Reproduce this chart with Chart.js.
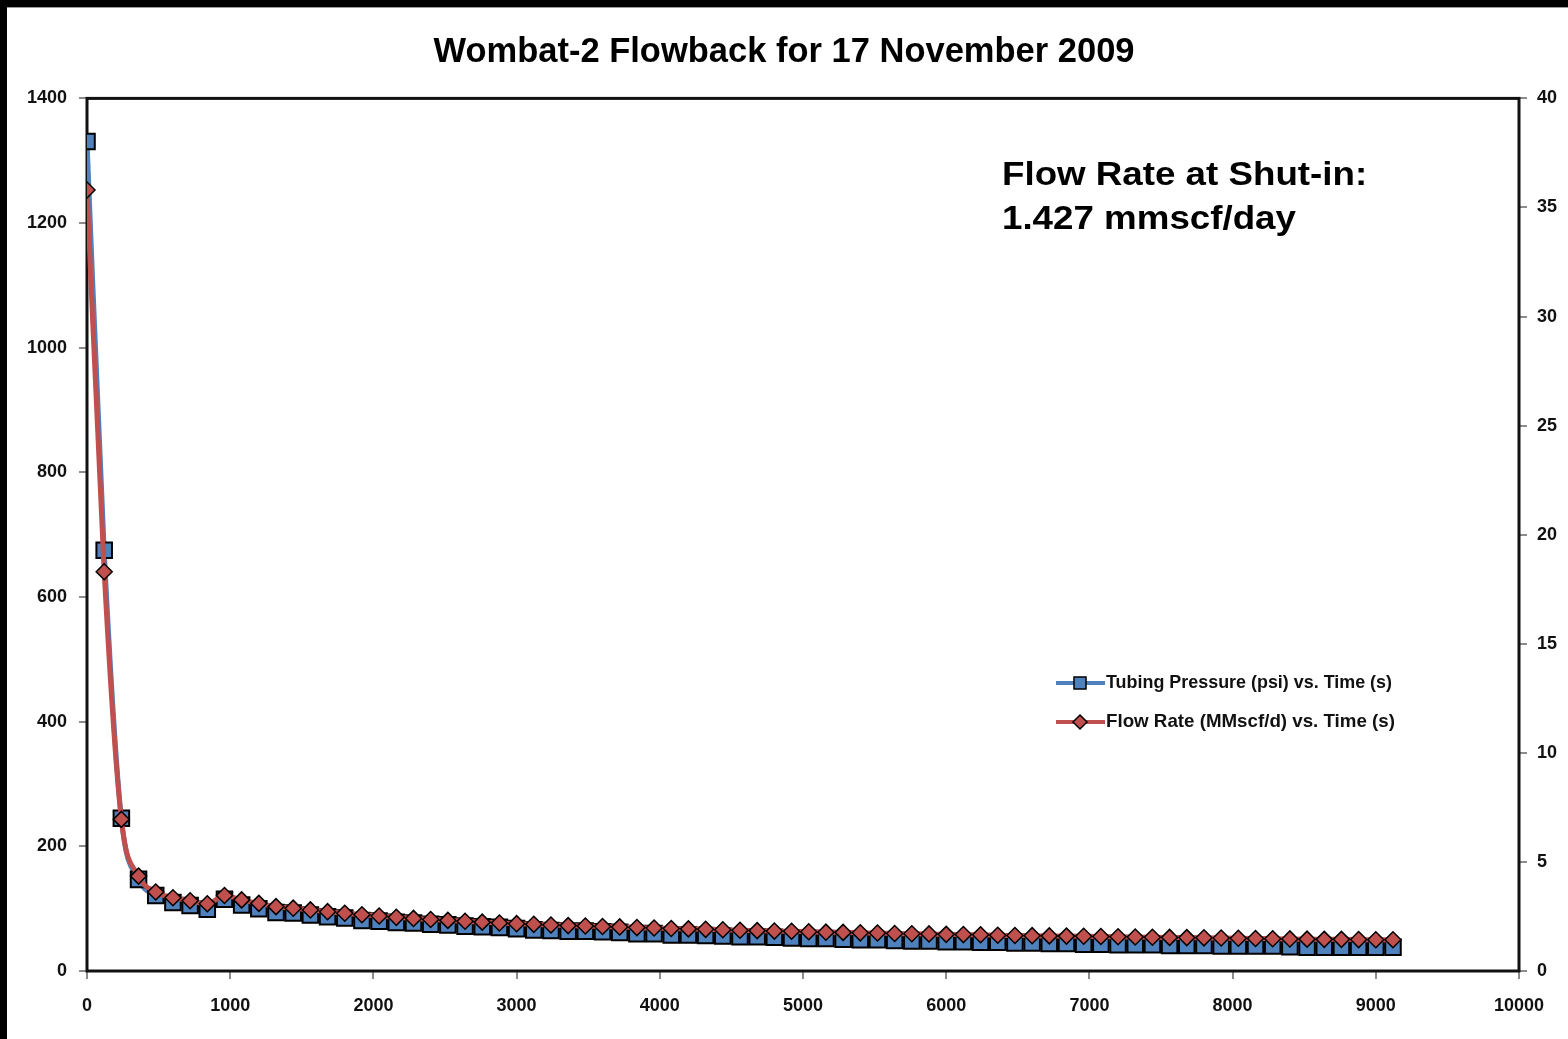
<!DOCTYPE html>
<html>
<head>
<meta charset="utf-8">
<title>Wombat-2 Flowback for 17 November 2009</title>
<script src="https://cdn.jsdelivr.net/npm/chart.js@4.4.1/dist/chart.umd.min.js"></script>
<style>
  html, body { margin: 0; padding: 0; background: #fff; }
  canvas { display: block; }
</style>
</head>
<body>
<canvas id="flowback-chart" width="1568" height="1039"></canvas>
<script>
// time since opening the well (s)
const timeSec = [
  0, 120, 240, 360, 480, 600, 720, 840, 960, 1080,
  1200, 1320, 1440, 1560, 1680, 1800, 1920, 2040, 2160, 2280,
  2400, 2520, 2640, 2760, 2880, 3000, 3120, 3240, 3360, 3480,
  3600, 3720, 3840, 3960, 4080, 4200, 4320, 4440, 4560, 4680,
  4800, 4920, 5040, 5160, 5280, 5400, 5520, 5640, 5760, 5880,
  6000, 6120, 6240, 6360, 6480, 6600, 6720, 6840, 6960, 7080,
  7200, 7320, 7440, 7560, 7680, 7800, 7920, 8040, 8160, 8280,
  8400, 8520, 8640, 8760, 8880, 9000, 9120
];

// tubing pressure (psi), left axis
const tubingPressure = [
  1331, 675, 245, 147, 121, 110, 105, 99, 115, 106,
  100, 94, 93, 90, 87, 85, 81, 80, 78, 77,
  75, 74, 72, 71, 70, 68, 66, 65, 64, 64,
  63, 62, 60, 60, 58, 58, 57, 56, 55, 55,
  54, 53, 52, 52, 51, 50, 50, 49, 48, 48,
  47, 47, 46, 46, 45, 45, 44, 44, 43, 43,
  42, 42, 42, 41, 41, 41, 40, 40, 40, 40,
  39, 38, 38, 38, 38, 38, 38
];

// flow rate (MMscf/d), right axis
const flowRate = [
  35.8, 18.3, 6.95, 4.35, 3.62, 3.36, 3.22, 3.08, 3.46, 3.26,
  3.10, 2.95, 2.88, 2.80, 2.72, 2.65, 2.58, 2.52, 2.46, 2.41,
  2.36, 2.32, 2.28, 2.24, 2.20, 2.17, 2.14, 2.11, 2.08, 2.06,
  2.04, 2.02, 1.99, 1.97, 1.95, 1.93, 1.91, 1.89, 1.87, 1.85,
  1.83, 1.82, 1.80, 1.78, 1.77, 1.75, 1.74, 1.72, 1.71, 1.70,
  1.68, 1.67, 1.66, 1.64, 1.63, 1.62, 1.61, 1.60, 1.59, 1.58,
  1.57, 1.56, 1.55, 1.54, 1.53, 1.52, 1.51, 1.50, 1.49, 1.48,
  1.47, 1.46, 1.45, 1.45, 1.44, 1.43, 1.43
];

const seriesNames = ['Tubing Pressure (psi) vs. Time (s)', 'Flow Rate (MMscf/d) vs. Time (s)'];
const chartTitle = 'Wombat-2 Flowback for 17 November 2009';
const noteLines = ['Flow Rate at Shut-in:', '1.427 mmscf/day'];

const BLUE = '#4F81BD';
const RED = '#C0504D';
const TICK_FONT = { family: '"Liberation Sans", Arial, sans-serif', size: 18, weight: 'bold' };
const plainNumber = { useGrouping: false };

// black frame, plot box, note and legend
const decorations = {
  id: 'decorations',
  beforeDraw(chart) {
    const ctx = chart.ctx;
    ctx.save();
    ctx.fillStyle = '#fff';
    ctx.fillRect(0, 0, chart.width, chart.height);
    ctx.fillStyle = '#000';
    ctx.fillRect(0, 0, chart.width, 7);
    ctx.fillRect(0, 0, 7, chart.height);
    ctx.fillStyle = '#9a9a9a';
    ctx.fillRect(7, 7, chart.width - 7, 1);
    ctx.restore();
  },
  beforeDatasetsDraw(chart) {
    const { ctx, chartArea: a } = chart;
    ctx.save();
    ctx.strokeStyle = '#111';
    ctx.lineWidth = 3;
    ctx.strokeRect(a.left, a.top, a.right - a.left, a.bottom - a.top);
    ctx.restore();
  },
  afterDraw(chart) {
    const ctx = chart.ctx;
    ctx.save();
    // shut-in note, a little wider than Arial as in the original
    ctx.fillStyle = '#000';
    ctx.font = 'bold 34px "Liberation Sans", Arial, sans-serif';
    ctx.textBaseline = 'middle';
    ctx.textAlign = 'left';
    noteLines.forEach((line, i) => {
      ctx.save();
      ctx.translate(1002, 176 + i * 44);
      ctx.scale(1.08, 1);
      ctx.fillText(line, 0, 0);
      ctx.restore();
    });

    // legend
    ctx.font = 'bold 19px "Liberation Sans", Arial, sans-serif';
    chart.data.datasets.forEach((ds, i) => {
      const y = 683 + i * 39;
      ctx.strokeStyle = ds.borderColor;
      ctx.lineWidth = 4;
      ctx.beginPath();
      ctx.moveTo(1056, y);
      ctx.lineTo(1105, y);
      ctx.stroke();
      ctx.fillStyle = ds.pointBackgroundColor;
      ctx.strokeStyle = '#000';
      ctx.lineWidth = 1.5;
      ctx.beginPath();
      if (ds.pointStyle === 'rect') {
        ctx.rect(1074, y - 6, 12, 12);
      } else {
        ctx.moveTo(1080, y - 7);
        ctx.lineTo(1087, y);
        ctx.lineTo(1080, y + 7);
        ctx.lineTo(1073, y);
        ctx.closePath();
      }
      ctx.fill();
      ctx.stroke();
      ctx.fillStyle = '#111';
      ctx.fillText(ds.label, 1106, y, i === 0 ? 286 : 289);
    });
    ctx.restore();
  }
};

const ctx = document.getElementById('flowback-chart').getContext('2d');

new Chart(ctx, {
  type: 'line',
  data: {
    datasets: [
      {
        label: seriesNames[0],
        data: timeSec.map((t, i) => ({ x: t, y: tubingPressure[i] })),
        borderColor: BLUE,
        borderWidth: 5,
        pointStyle: 'rect',
        pointRadius: 11,
        pointBackgroundColor: BLUE,
        pointBorderColor: '#000',
        pointBorderWidth: 2,
        cubicInterpolationMode: 'monotone',
        yAxisID: 'y',
        order: 2
      },
      {
        label: seriesNames[1],
        data: timeSec.map((t, i) => ({ x: t, y: flowRate[i] })),
        borderColor: RED,
        borderWidth: 5,
        pointStyle: 'rectRot',
        pointRadius: 8,
        pointBackgroundColor: RED,
        pointBorderColor: '#000',
        pointBorderWidth: 1.5,
        cubicInterpolationMode: 'monotone',
        yAxisID: 'y1',
        order: 1
      }
    ]
  },
  options: {
    responsive: false,
    animation: false,
    devicePixelRatio: 1,
    layout: { padding: 0 },
    plugins: {
      legend: { display: false },
      tooltip: { enabled: false },
      title: {
        display: true,
        text: chartTitle,
        color: '#000',
        font: { family: '"Liberation Sans", Arial, sans-serif', size: 34.5, weight: 'bold', lineHeight: 1.2 },
        padding: { top: 32, bottom: 25 }
      }
    },
    scales: {
      x: {
        type: 'linear',
        min: 0,
        max: 10000,
        ticks: { stepSize: 1000, color: '#111', font: TICK_FONT, padding: 16, maxRotation: 0, format: plainNumber },
        grid: { drawOnChartArea: false, tickLength: 8, color: '#8c8c8c', lineWidth: 2 },
        border: { display: false },
        afterFit(scale) { scale.height = 68; }
      },
      y: {
        type: 'linear',
        position: 'left',
        min: 0,
        max: 1400,
        ticks: { stepSize: 200, color: '#111', font: TICK_FONT, padding: 12, format: plainNumber },
        grid: { drawOnChartArea: false, tickLength: 8, color: '#8c8c8c', lineWidth: 2 },
        border: { display: false },
        afterFit(scale) { scale.width = 87; }
      },
      y1: {
        type: 'linear',
        position: 'right',
        min: 0,
        max: 40,
        ticks: { stepSize: 5, color: '#111', font: TICK_FONT, padding: 10, format: plainNumber },
        grid: { drawOnChartArea: false, tickLength: 8, color: '#8c8c8c', lineWidth: 2 },
        border: { display: false },
        afterFit(scale) { scale.width = 49; }
      }
    }
  },
  plugins: [decorations]
});
</script>
</body>
</html>
